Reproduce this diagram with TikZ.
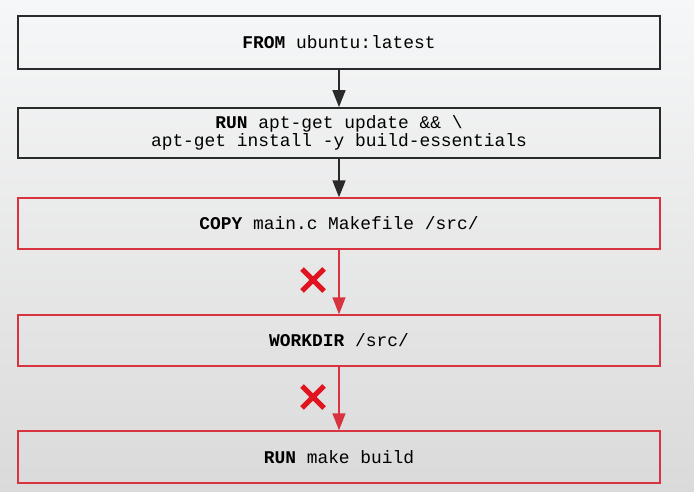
\documentclass[tikz,border=0pt]{standalone}
\usepackage{fontspec}
\setmonofont{Liberation Mono}
\usetikzlibrary{arrows.meta}
\definecolor{bgtop}{HTML}{F6F7F8}
\definecolor{bgbot}{HTML}{DADADA}
\definecolor{redline}{HTML}{D8343F}
\definecolor{redx}{HTML}{E0141E}
\definecolor{darkline}{HTML}{2A2A2A}
\begin{document}
\begin{tikzpicture}[x=1pt,y=-1pt,
  boxtext/.style={inner sep=0pt,minimum width=642pt,align=center,font=\ttfamily\fontsize{17.9}{17.5}\selectfont},
  blackbox/.style={boxtext,draw=darkline,line width=1.8pt},
  redbox/.style={boxtext,draw=redline,line width=1.4pt},
  blackarrow/.style={draw=darkline,line width=1.6pt,-{Triangle[length=17pt,width=13pt]}},
  redarrow/.style={draw=redline,line width=1.4pt,-{Triangle[length=17pt,width=13pt]}},
  xmark/.style={draw=redx,line width=5pt}
]
\shade[top color=bgtop,bottom color=bgbot] (0,0) rectangle (694,492);
\useasboundingbox (0,0) rectangle (694,492);
\node[blackbox,minimum height=53pt] (from) at (339,42.5) {\textbf{FROM} ubuntu:latest};
\node[blackbox,minimum height=50pt] (run1) at (339,133) {\textbf{RUN} apt-get update \&\& \textbackslash\\apt-get install -y build-essentials};
\node[redbox,minimum height=51pt] (copy) at (339,223.5) {\textbf{COPY} main.c Makefile /src/};
\node[redbox,minimum height=51pt] (work) at (339,340.5) {\textbf{WORKDIR} /src/};
\node[redbox,minimum height=52pt] (make) at (339,457) {\textbf{RUN} make build};
\draw[blackarrow] (from.south) -- (run1.north);
\draw[blackarrow] (run1.south) -- (copy.north);
\draw[redarrow] (copy.south) -- (work.north);
\draw[redarrow] (work.south) -- (make.north);
\coordinate (x1) at (313,280);
\coordinate (x2) at (313,397);
\draw[xmark] ([shift={(-11,-11)}]x1) -- ([shift={(11,11)}]x1);
\draw[xmark] ([shift={(-11,11)}]x1) -- ([shift={(11,-11)}]x1);
\draw[xmark] ([shift={(-11,-11)}]x2) -- ([shift={(11,11)}]x2);
\draw[xmark] ([shift={(-11,11)}]x2) -- ([shift={(11,-11)}]x2);
\end{tikzpicture}
\end{document}
